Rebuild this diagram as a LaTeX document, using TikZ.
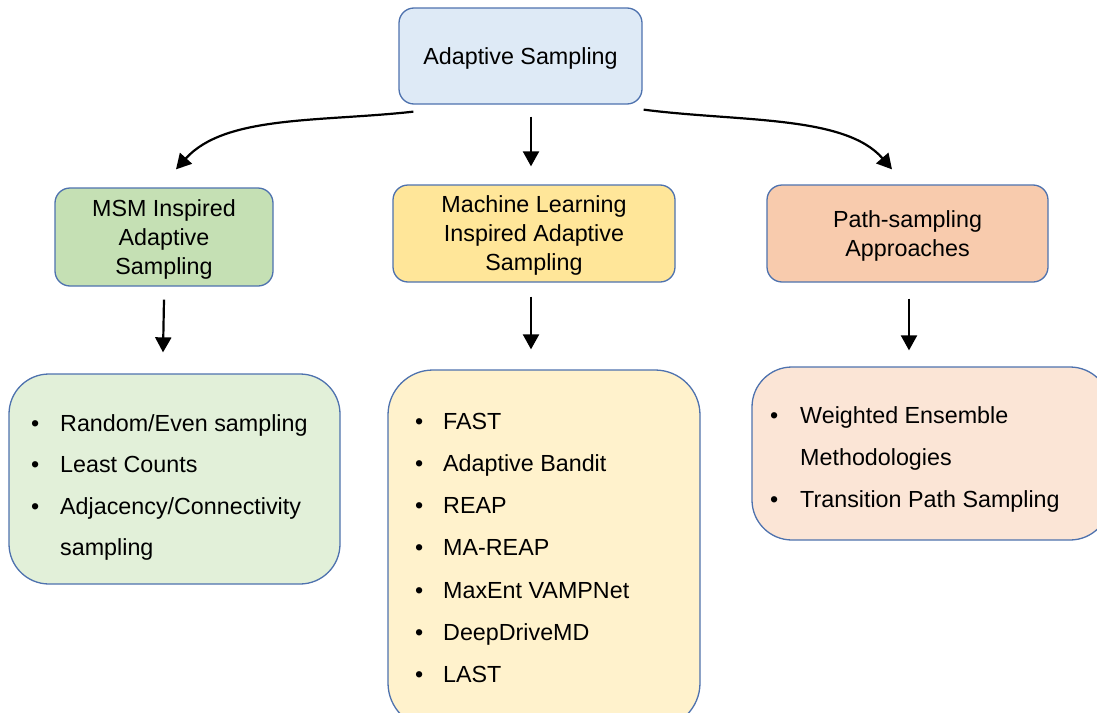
\documentclass[tikz,border=0pt]{standalone}
\usepackage{fontspec}
\setmainfont{Liberation Sans}
\usetikzlibrary{arrows.meta}

\definecolor{edge}{HTML}{4E72AE}
\definecolor{topfill}{HTML}{DEEAF6}
\definecolor{msmfill}{HTML}{C5E0B4}
\definecolor{mlfill}{HTML}{FFE699}
\definecolor{pathfill}{HTML}{F8CBAD}
\definecolor{msmlight}{HTML}{E2F0D9}
\definecolor{mllight}{HTML}{FFF2CC}
\definecolor{pathlight}{HTML}{FBE5D6}

\tikzset{
  box/.style={draw=edge, line width=1.3pt, rounded corners=15pt, inner sep=0pt,
    align=center, text depth=0pt, font=\fontsize{23.3}{29}\selectfont},
  listbox/.style={draw=edge, line width=1.3pt, inner sep=0pt},
  item/.style={anchor=base west, inner sep=0pt, font=\fontsize{23.3}{29}\selectfont},
  arr/.style={-{Triangle[length=15pt,width=16pt]}, line width=2.2pt, black},
}
\newcommand{\bul}[1]{\makebox[#1][l]{\textbullet}}

\begin{document}
\begin{tikzpicture}[x=1pt,y=-1pt]
\useasboundingbox (0,0) rectangle (1097,712);
\clip (0,0) rectangle (1097,712);

% top-level box
\node[box, fill=topfill, minimum width=243pt, minimum height=96pt] (top) at (520.5,56) {Adaptive Sampling};

% second-level category boxes
\node[box, fill=msmfill, minimum width=218pt, minimum height=98pt] (msm) at (164,237)
  {MSM Inspired\\Adaptive\\Sampling};
\node[box, fill=mlfill, minimum width=282pt, minimum height=97pt] (ml) at (534,233.5)
  {Machine Learning\\Inspired Adaptive\\Sampling};
\node[box, fill=pathfill, minimum width=281pt, minimum height=97pt] (path) at (907.5,233.5)
  {Path-sampling\\Approaches};

% method list boxes
\node[listbox, fill=msmlight, rounded corners=40pt, minimum width=331pt, minimum height=210pt] (msmlist) at (174.5,479) {};
\node[listbox, fill=mllight, rounded corners=45pt, minimum width=312pt, minimum height=358pt] (mllist) at (544,549) {};
\node[listbox, fill=pathlight, rounded corners=40pt, minimum width=358pt, minimum height=173pt] (pathlist) at (931,453.5) {};

% MSM methods
\node[item] (msm1) at (31,431)   {\bul{29pt}Random/Even sampling};
\node[item] (msm2) at (31,472.5) {\bul{29pt}Least Counts};
\node[item] (msm3) at (31,514)   {\bul{29pt}Adjacency/Connectivity};
\node[item] (msm4) at (60,555.5) {sampling};

% machine-learning methods
\node[item] (ml1) at (415,429)   {\bul{28pt}FAST};
\node[item] (ml2) at (415,471.3) {\bul{28pt}Adaptive Bandit};
\node[item] (ml3) at (415,513.6) {\bul{28pt}REAP};
\node[item] (ml4) at (415,555.9) {\bul{28pt}MA-REAP};
\node[item] (ml5) at (415,598.2) {\bul{28pt}MaxEnt VAMPNet};
\node[item] (ml6) at (415,640.5) {\bul{28pt}DeepDriveMD};
\node[item] (ml7) at (415,682.8) {\bul{28pt}LAST};

% path-sampling methods
\node[item] (ps1) at (770,423) {\bul{30pt}Weighted Ensemble};
\node[item] (ps2) at (800,465) {Methodologies};
\node[item] (ps3) at (770,507) {\bul{30pt}Transition Path Sampling};

% connectors from the top box
\draw[arr] ([xshift=15pt,yshift=-7pt]top.south west) .. controls (320,122) and (225,115) .. ([xshift=12pt,yshift=18pt]msm.north);
\draw[arr] ([xshift=10.5pt,yshift=-12pt]top.south) -- ([xshift=-3pt,yshift=18pt]ml.north);
\draw[arr] ([xshift=1pt,yshift=-5pt]top.south east) .. controls (740,122) and (845,115) .. ([xshift=-15.5pt,yshift=15pt]path.north);

% connectors from categories to their method lists
\draw[arr] ([yshift=-13pt]msm.south) -- ([xshift=-11.5pt,yshift=21pt]msmlist.north);
\draw[arr] ([xshift=-3pt,yshift=-14pt]ml.south) -- ([xshift=-13pt,yshift=20pt]mllist.north);
\draw[arr] ([xshift=1.5pt,yshift=-16pt]path.south) -- ([xshift=-22pt,yshift=16pt]pathlist.north);
\end{tikzpicture}
\end{document}
